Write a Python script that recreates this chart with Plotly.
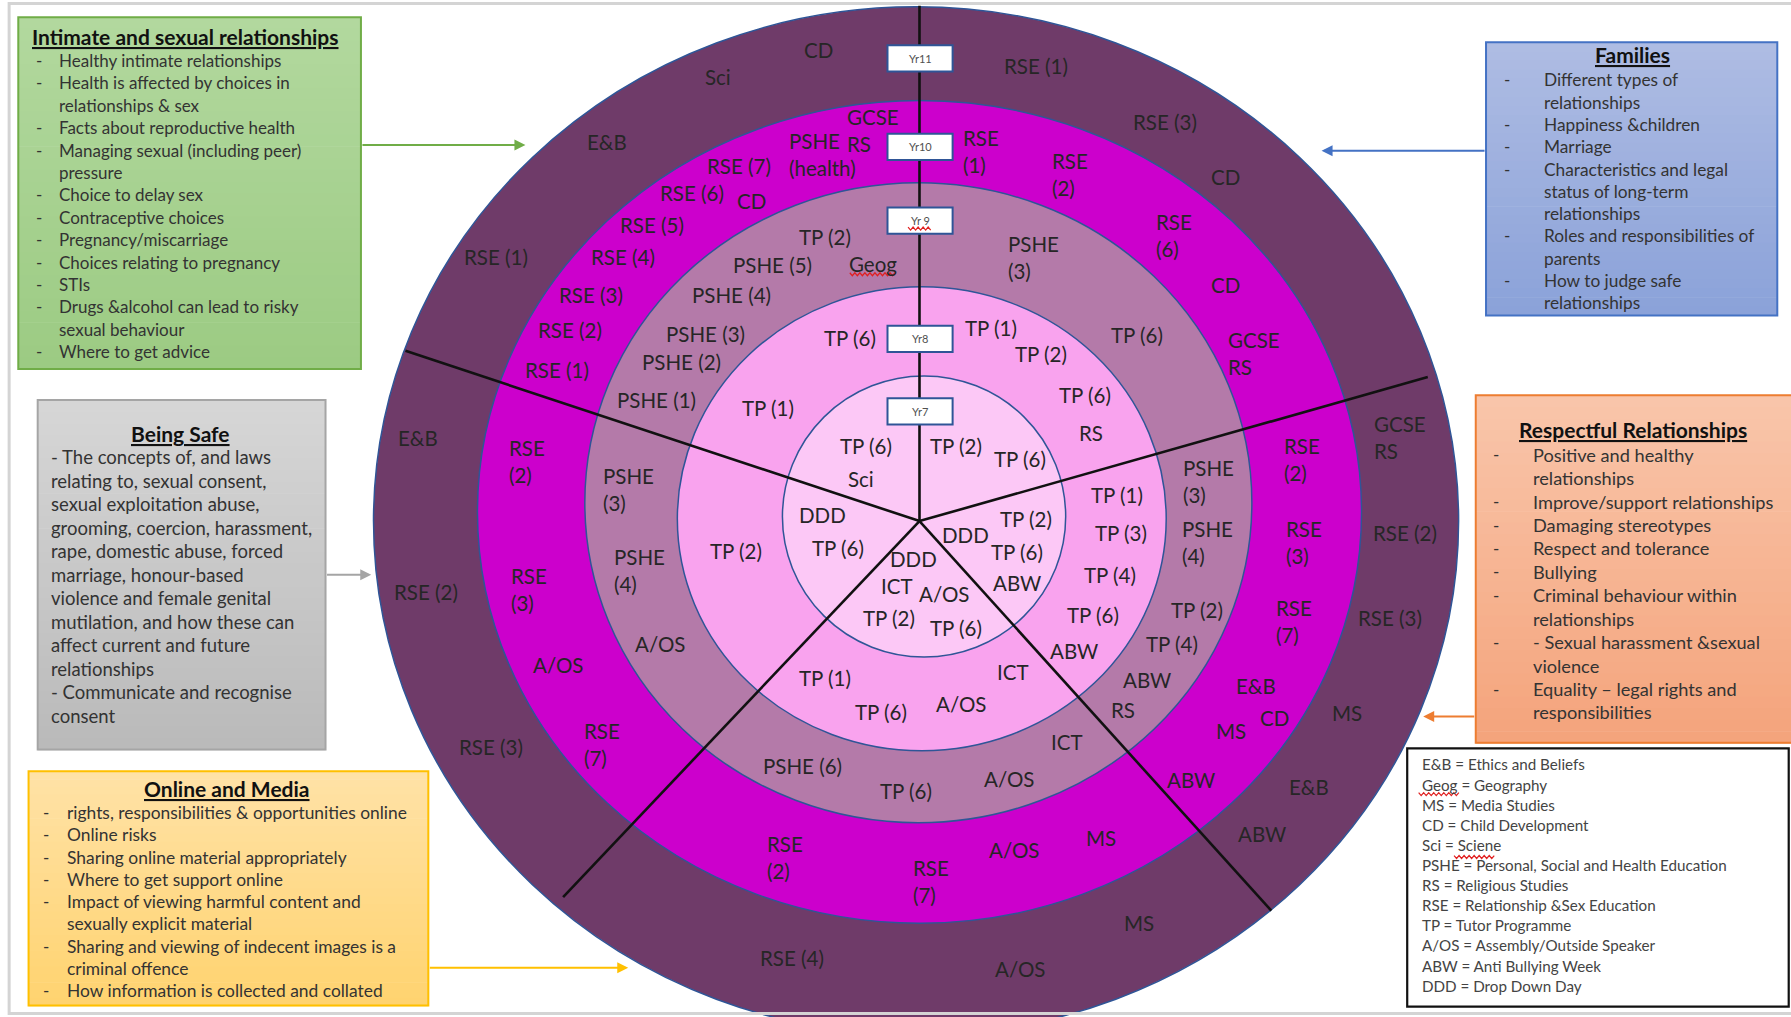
import plotly.graph_objects as go

W, H = 1791, 1017
RW, RH = 1568, 890          # reference frame units (axis coordinates)
FONT = "Lato, 'Open Sans', sans-serif"
TXT = "#262626"

# ---------------- data ----------------
ring_names = ["outer", "magenta", "mauve", "pink", "light"]
ring_colors = ["#6F3B69", "#CC00CC", "#B47AA9", "#F9A3EE", "#FCC8F6"]
ring_geom = [  # cx, cy, rx, ry
    (802, 456, 475, 450),
    (805, 448, 387, 360),
    (804, 440, 292, 280),
    (807, 454, 214, 203),
    (809, 452, 124, 123),
]
centre = (805, 456)
spoke_ends = [(805, 5), (355, 307), (1250, 330), (493, 785), (1113, 797)]

year_labels = ["Yr11", "Yr10", "Yr 9", "Yr8", "Yr7"]
year_y = [51, 128.5, 193, 296.5, 360]

outer_labels = [
    ("CD", 717, 44), ("Sci", 629, 67), ("RSE (1)", 907, 58), ("E&B", 531, 124),
    ("RSE (3)", 1020, 107), ("CD", 1073, 155), ("RSE (1)", 434, 225),
    ("E&B", 366, 383), ("RSE (2)", 373, 518), ("RSE (3)", 430, 654),
    ("GCSE<br>RS", 1226, 383), ("RSE (2)", 1230, 466), ("RSE (3)", 1217, 541),
    ("MS", 1179, 624), ("E&B", 1146, 689), ("ABW", 1105, 730), ("MS", 997, 808),
    ("RSE (4)", 693, 838), ("A/OS", 893, 848),
]
magenta_labels = [
    ("GCSE<br>RS", 764, 114.5), ("PSHE<br>(health)", 720, 135.5), ("RSE (7)", 647, 145),
    ("RSE (6)", 606, 169), ("CD", 658, 176), ("RSE (5)", 571, 197), ("RSE (4)", 545, 225),
    ("RSE (3)", 517, 258), ("RSE (2)", 499, 289), ("RSE (1)", 488, 324),
    ("RSE<br>(1)", 859, 133), ("RSE<br>(2)", 937, 152.5), ("RSE<br>(6)", 1028, 206.5),
    ("CD", 1073, 249), ("GCSE<br>RS", 1098, 309.5),
    ("RSE<br>(2)", 461, 404), ("RSE<br>(3)", 463, 516), ("A/OS", 489, 582), ("RSE<br>(7)", 527, 651.5),
    ("RSE<br>(2)", 1140, 402), ("RSE<br>(3)", 1142, 475), ("RSE<br>(7)", 1133, 544),
    ("E&B", 1100, 600), ("CD", 1116, 628), ("MS", 1078, 640), ("ABW", 1043, 683),
    ("RSE<br>(2)", 687, 750.5), ("RSE<br>(7)", 815, 771.5), ("A/OS", 888, 744), ("MS", 964, 733),
]
mauve_labels = [
    ("TP (2)", 722, 207), ("PSHE (5)", 676, 232), ("Geog", 764, 231), ("PSHE (4)", 640, 258),
    ("PSHE (3)", 618, 292), ("PSHE (2)", 597, 317), ("PSHE (1)", 575, 350),
    ("PSHE<br>(3)", 905, 225), ("TP (6)", 995, 293),
    ("PSHE<br>(3)", 1058, 421), ("PSHE<br>(4)", 1057, 475), ("TP (2)", 1048, 534),
    ("TP (4)", 1026, 564), ("ABW", 1004, 595), ("RS", 983, 621),
    ("PSHE (6)", 703, 670), ("TP (6)", 793, 692), ("A/OS", 884, 682), ("ICT", 934, 649),
    ("PSHE<br>(3)", 550, 428), ("PSHE<br>(4)", 560, 499), ("A/OS", 578, 564),
]
pink_labels = [
    ("TP (6)", 744, 296), ("TP (1)", 672, 357), ("TP (1)", 868, 287), ("TP (2)", 911, 310),
    ("TP (6)", 950, 346), ("RS", 955, 379), ("TP (1)", 978, 433), ("TP (3)", 981, 466),
    ("TP (4)", 972, 503), ("TP (6)", 957, 538), ("ABW", 940, 570), ("TP (1)", 722, 593),
    ("TP (6)", 771, 623), ("A/OS", 842, 616), ("ICT", 887, 588), ("TP (2)", 644, 482),
]
light_labels = [
    ("TP (6)", 758, 390), ("Sci", 754, 419), ("TP (2)", 837, 390), ("TP (6)", 893, 402),
    ("TP (2)", 898, 454), ("DDD", 845, 468), ("TP (6)", 890, 483), ("ABW", 890, 510),
    ("DDD", 800, 489), ("ICT", 785, 513), ("A/OS", 827, 520), ("TP (2)", 778, 541),
    ("TP (6)", 837, 550), ("DDD", 720, 451), ("TP (6)", 734, 480),
]

intimate_title = "Intimate and sexual relationships"
intimate_items = ["Healthy intimate relationships", "Health is affected by choices in",
                  "relationships & sex", "Facts about reproductive health",
                  "Managing sexual (including peer)", "pressure", "Choice to delay sex",
                  "Contraceptive choices", "Pregnancy/miscarriage",
                  "Choices relating to pregnancy", "STIs",
                  "Drugs &alcohol can lead to risky", "sexual behaviour", "Where to get advice"]
intimate_dash = [1, 1, 0, 1, 1, 0, 1, 1, 1, 1, 1, 1, 0, 1]

families_title = "Families"
families_items = ["Different types of", "relationships", "Happiness &children", "Marriage",
                  "Characteristics and legal", "status of long-term", "relationships",
                  "Roles and responsibilities of", "parents", "How to judge safe",
                  "relationships"]
families_dash = [1, 0, 1, 1, 1, 0, 0, 1, 0, 1, 0]

safe_title = "Being Safe"
safe_items = ["- The concepts of, and laws", "relating to, sexual consent,",
              "sexual exploitation abuse,", "grooming, coercion, harassment,",
              "rape, domestic abuse, forced", "marriage, honour-based",
              "violence and female genital", "mutilation, and how these can",
              "affect current and future", "relationships",
              "- Communicate and recognise", "consent"]

respect_title = "Respectful Relationships"
respect_items = ["Positive and healthy", "relationships", "Improve/support relationships",
                 "Damaging stereotypes", "Respect and tolerance", "Bullying",
                 "Criminal behaviour within", "relationships",
                 "- Sexual harassment &sexual", "violence",
                 "Equality \u2013 legal rights and", "responsibilities"]
respect_dash = [1, 0, 1, 1, 1, 1, 1, 0, 1, 0, 1, 0]

online_title = "Online and Media"
online_items = ["rights, responsibilities & opportunities online", "Online risks",
                "Sharing online material appropriately", "Where to get support online",
                "Impact of viewing harmful content and", "sexually explicit material",
                "Sharing and viewing of indecent images is a", "criminal offence",
                "How information is collected and collated"]
online_dash = [1, 1, 1, 1, 1, 0, 1, 0, 1]

key_items = ["E&B = Ethics and Beliefs", "Geog = Geography", "MS = Media Studies",
             "CD = Child Development", "Sci = Sciene",
             "PSHE = Personal, Social and Health Education", "RS = Religious Studies",
             "RSE = Relationship &Sex Education", "TP = Tutor Programme",
             "A/OS = Assembly/Outside Speaker", "ABW = Anti Bullying Week",
             "DDD = Drop Down Day"]

# ---------------- helpers ----------------
shapes, annotations = [], []


def hex2rgb(h):
    h = h.lstrip("#")
    return tuple(int(h[i:i + 2], 16) for i in (0, 2, 4))


def gradient_box(x0, y0, x1, y1, c_top, c_bot, border, lw=2, n=30):
    a, b = hex2rgb(c_top), hex2rgb(c_bot)
    step = (y1 - y0) / n
    for i in range(n):
        t = i / (n - 1)
        c = "rgb(%d,%d,%d)" % tuple(round(a[k] + (b[k] - a[k]) * t) for k in range(3))
        shapes.append(dict(type="rect", xref="x", yref="y", x0=x0, x1=x1,
                           y0=y0 + i * step, y1=y0 + (i + 1) * step + 0.6,
                           fillcolor=c, line=dict(width=0), layer="above"))
    shapes.append(dict(type="rect", xref="x", yref="y", x0=x0, x1=x1, y0=y0, y1=y1,
                       fillcolor="rgba(0,0,0,0)", line=dict(color=border, width=lw),
                       layer="above"))


def squiggle(x0, x1, y, step=2.2, amp=1.3, color="#E02020"):
    pts, x, up = [], x0, True
    while x <= x1:
        pts.append((x, y - amp if up else y + amp))
        up = not up
        x += step
    path = "M " + " L ".join("%.1f,%.1f" % p for p in pts)
    shapes.append(dict(type="path", xref="x", yref="y", path=path,
                       line=dict(color=color, width=1.2), layer="above"))


def text(t, x, y, size=18, color=TXT, xanchor="center", align="left", bold=False):
    annotations.append(dict(x=x, y=y, xref="x", yref="y", text=t, showarrow=False,
                            xanchor=xanchor, yanchor="middle", align=align,
                            font=dict(family=FONT, size=size, color=color,
                                      weight="bold" if bold else "normal")))


def arrow(x_from, x_to, y, color):
    annotations.append(dict(x=x_to, y=y, ax=x_from, ay=y, xref="x", yref="y",
                            axref="x", ayref="y", text="", showarrow=True,
                            arrowhead=2, arrowsize=1.1, arrowwidth=2,
                            arrowcolor=color, standoff=0))


# ---------------- page frame ----------------
shapes.append(dict(type="rect", xref="x", yref="y", x0=8, x1=RW + 20, y0=3, y1=887,
                   line=dict(color="#D4D4D4", width=3), fillcolor="rgba(0,0,0,0)"))

# ---------------- rings ----------------
for (cx, cy, rx, ry), col in zip(ring_geom, ring_colors):
    shapes.append(dict(type="circle", xref="x", yref="y", x0=cx - rx, x1=cx + rx,
                       y0=cy - ry, y1=cy + ry, fillcolor=col,
                       line=dict(color="#2F5597", width=1.5), layer="below"))

# spokes
for ex, ey in spoke_ends:
    shapes.append(dict(type="line", xref="x", yref="y", x0=centre[0], y0=centre[1],
                       x1=ex, y1=ey, line=dict(color="#111111", width=2.6), layer="below"))

# ring labels
RING_FS = 20.5
for group in (outer_labels, magenta_labels, mauve_labels, pink_labels, light_labels):
    for t, x, y in group:
        text(t, x, y, size=RING_FS)
squiggle(744, 785, 240)

# year boxes
for lab, y in zip(year_labels, year_y):
    shapes.append(dict(type="rect", xref="x", yref="y", x0=777, x1=834, y0=y - 11.5,
                       y1=y + 11.5, fillcolor="white", line=dict(color="#2F5597", width=2),
                       layer="below"))
    text(lab, 805.5, y, size=11, color="#505050")
squiggle(795, 815, 200)

TITLE_FS = 21
BODY = "#333333"
# ---------------- text boxes ----------------
# Intimate and sexual relationships (green)
gradient_box(16, 15, 316, 323, "#B2D89E", "#9CCB83", "#70AD47")
text("<u>" + intimate_title + "</u>", 162, 32, size=TITLE_FS, color="#111111", bold=True)
for i, (t, d) in enumerate(zip(intimate_items, intimate_dash)):
    y = 53 + i * 19.6
    if d:
        text("-", 30, y, size=17, color=BODY, xanchor="left")
    text(t, 50, y, size=17, color=BODY, xanchor="left")
arrow(316, 460, 127, "#70AD47")

# Families (blue)
gradient_box(1301, 37, 1556, 276, "#AEBCE3", "#8BA2D9", "#4472C4")
text("<u>" + families_title + "</u>", 1429, 48, size=TITLE_FS, color="#111111", bold=True)
for i, (t, d) in enumerate(zip(families_items, families_dash)):
    y = 70 + i * 19.5
    if d:
        text("-", 1315, y, size=17, color=BODY, xanchor="left")
    text(t, 1350, y, size=17.3, color=BODY, xanchor="left")
arrow(1301, 1157, 132, "#4472C4")

# Being Safe (grey)
gradient_box(33, 350, 285, 656, "#D6D6D6", "#BABABA", "#A5A5A5")
text("<u>" + safe_title + "</u>", 158, 379, size=TITLE_FS, color="#111111", bold=True)
for i, t in enumerate(safe_items):
    text(t, 43, 400 + i * 20.6, size=18.5, color=BODY, xanchor="left")
arrow(285, 325, 503, "#A5A5A5")

# Respectful Relationships (orange)
gradient_box(1292, 346, 1575, 650, "#F9C5AA", "#F4A47C", "#ED7D31")
text("<u>" + respect_title + "</u>", 1430, 376, size=TITLE_FS, color="#111111", bold=True)
for i, (t, d) in enumerate(zip(respect_items, respect_dash)):
    y = 398 + i * 20.5
    if d:
        text("-", 1305, y, size=17, color=BODY, xanchor="left")
    text(t, 1340, y, size=18.2, color=BODY, xanchor="left")
arrow(1292, 1246, 627, "#ED7D31")

# Online and Media (yellow)
gradient_box(25, 675, 375, 880, "#FFE2A6", "#FFD370", "#FFC000")
text("<u>" + online_title + "</u>", 199, 690, size=TITLE_FS, color="#111111", bold=True)
for i, (t, d) in enumerate(zip(online_items, online_dash)):
    y = 711 + i * 19.5
    if d:
        text("-", 36, y, size=17, color=BODY, xanchor="left")
    text(t, 57, y, size=17.4, color=BODY, xanchor="left")
arrow(375, 550, 847, "#FFC000")

# Key
shapes.append(dict(type="rect", xref="x", yref="y", x0=1232, x1=1566, y0=655, y1=881,
                   fillcolor="white", line=dict(color="#111111", width=2.2), layer="above"))
for i, t in enumerate(key_items):
    text(t, 1243, 669 + i * 17.6, size=15.2, color="#444444", xanchor="left")
squiggle(1242, 1279, 695)
squiggle(1273, 1310, 750)

# ---------------- figure ----------------
fig = go.Figure()
fig.update_layout(
    width=W, height=H, margin=dict(l=0, r=0, t=0, b=0),
    paper_bgcolor="white", plot_bgcolor="white", showlegend=False,
    xaxis=dict(range=[0, RW], visible=False, fixedrange=True),
    yaxis=dict(range=[RH, 0], visible=False, fixedrange=True),
    shapes=shapes, annotations=annotations,
)
fig.write_html("out.html", post_script="document.body.style.margin='0';",
               config={"displayModeBar": False})
